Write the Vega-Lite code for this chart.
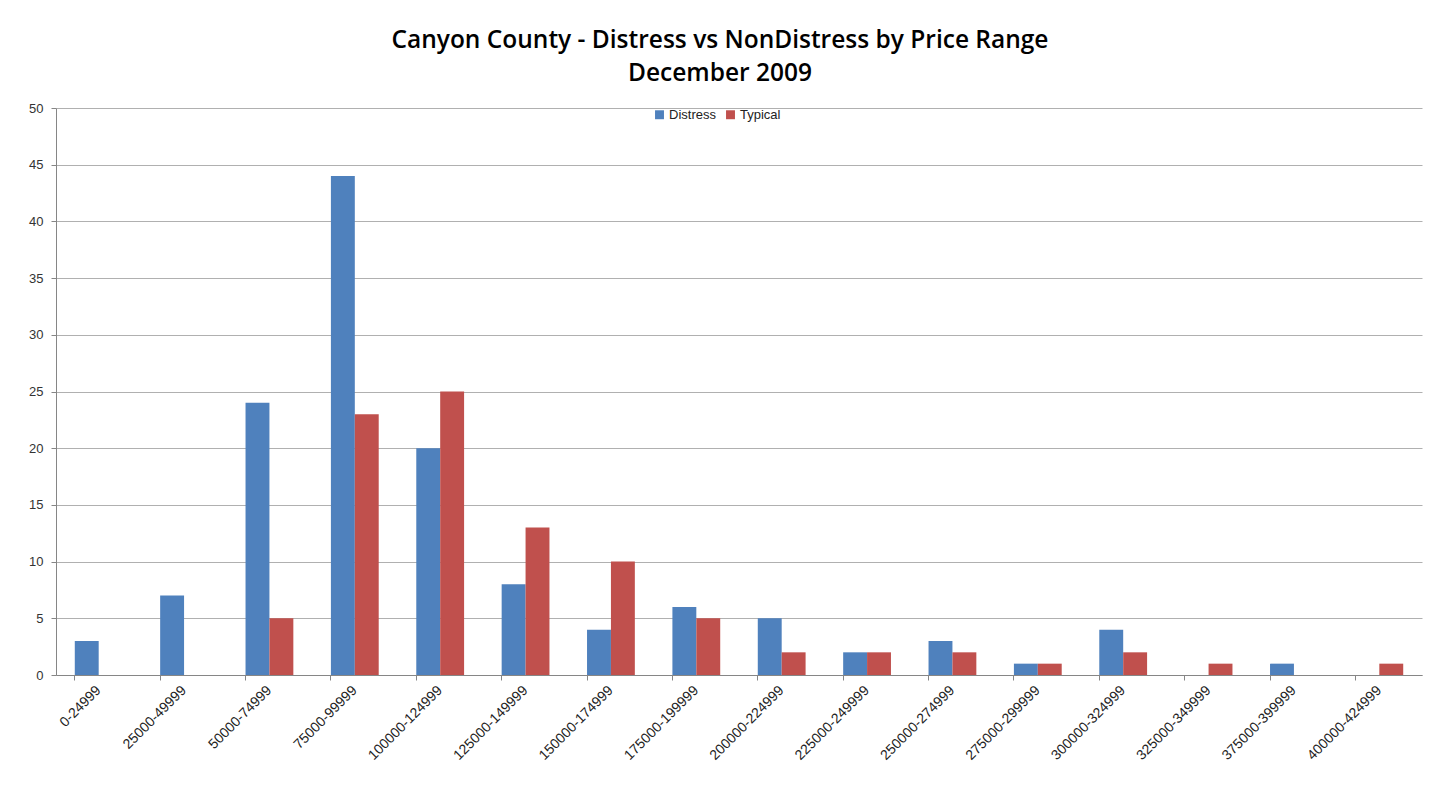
{
  "$schema": "https://vega.github.io/schema/vega-lite/v6.json",
  "width": 1366,
  "height": 567,
  "autosize": {"type": "none"},
  "padding": {"left": 56, "top": 108, "right": 17, "bottom": 115},
  "background": "white",
  "title": {
    "text": ["Canyon County  - Distress vs NonDistress by Price Range", "December 2009"],
    "font": "Open Sans",
    "fontSize": 24.5,
    "fontWeight": 600,
    "color": "#000000",
    "lineHeight": 33,
    "anchor": "middle",
    "dx": -19,
    "offset": 16
  },
  "data": {
    "values": [
      {"range": "0-24999", "series": "Distress", "count": 3},
      {"range": "0-24999", "series": "Typical", "count": 0},
      {"range": "25000-49999", "series": "Distress", "count": 7},
      {"range": "25000-49999", "series": "Typical", "count": 0},
      {"range": "50000-74999", "series": "Distress", "count": 24},
      {"range": "50000-74999", "series": "Typical", "count": 5},
      {"range": "75000-99999", "series": "Distress", "count": 44},
      {"range": "75000-99999", "series": "Typical", "count": 23},
      {"range": "100000-124999", "series": "Distress", "count": 20},
      {"range": "100000-124999", "series": "Typical", "count": 25},
      {"range": "125000-149999", "series": "Distress", "count": 8},
      {"range": "125000-149999", "series": "Typical", "count": 13},
      {"range": "150000-174999", "series": "Distress", "count": 4},
      {"range": "150000-174999", "series": "Typical", "count": 10},
      {"range": "175000-199999", "series": "Distress", "count": 6},
      {"range": "175000-199999", "series": "Typical", "count": 5},
      {"range": "200000-224999", "series": "Distress", "count": 5},
      {"range": "200000-224999", "series": "Typical", "count": 2},
      {"range": "225000-249999", "series": "Distress", "count": 2},
      {"range": "225000-249999", "series": "Typical", "count": 2},
      {"range": "250000-274999", "series": "Distress", "count": 3},
      {"range": "250000-274999", "series": "Typical", "count": 2},
      {"range": "275000-299999", "series": "Distress", "count": 1},
      {"range": "275000-299999", "series": "Typical", "count": 1},
      {"range": "300000-324999", "series": "Distress", "count": 4},
      {"range": "300000-324999", "series": "Typical", "count": 2},
      {"range": "325000-349999", "series": "Distress", "count": 0},
      {"range": "325000-349999", "series": "Typical", "count": 1},
      {"range": "375000-399999", "series": "Distress", "count": 1},
      {"range": "375000-399999", "series": "Typical", "count": 0},
      {"range": "400000-424999", "series": "Distress", "count": 0},
      {"range": "400000-424999", "series": "Typical", "count": 1}
    ]
  },
  "mark": {"type": "bar"},
  "encoding": {
    "x": {
      "field": "range",
      "type": "nominal",
      "sort": null,
      "title": null,
      "scale": {"paddingInner": 0.44, "paddingOuter": 0.22},
      "axis": {
        "labelAngle": -45,
        "labelAlign": "right",
        "labelBaseline": "middle",
        "labelFont": "Liberation Sans",
        "labelFontSize": 14,
        "labelColor": "#222222",
        "labelPadding": 8,
        "bandPosition": 0,
        "tickColor": "#868686",
        "tickSize": 5,
        "domainColor": "#868686",
        "grid": false
      }
    },
    "xOffset": {"field": "series", "type": "nominal", "scale": {"paddingInner": 0, "paddingOuter": 0}},
    "y": {
      "field": "count",
      "type": "quantitative",
      "title": null,
      "scale": {"domain": [0, 50], "nice": false},
      "axis": {
        "values": [0, 5, 10, 15, 20, 25, 30, 35, 40, 45, 50],
        "labelFont": "Liberation Sans",
        "labelFontSize": 13,
        "labelColor": "#333333",
        "labelPadding": 8,
        "tickColor": "#868686",
        "tickSize": 5,
        "domainColor": "#868686",
        "gridColor": "#b0b0b0",
        "gridWidth": 1
      }
    },
    "color": {
      "field": "series",
      "type": "nominal",
      "scale": {"domain": ["Distress", "Typical"], "range": ["#4f81bd", "#c0504d"]},
      "legend": {
        "title": null,
        "orient": "none",
        "direction": "horizontal",
        "legendX": 597,
        "legendY": 0,
        "symbolType": "square",
        "symbolSize": 80,
        "symbolStrokeWidth": 0,
        "labelFont": "Liberation Sans",
        "labelFontSize": 13,
        "labelColor": "#222222",
        "labelOffset": 3,
        "columnPadding": 8
      }
    }
  },
  "config": {
    "view": {"stroke": null}
  }
}
